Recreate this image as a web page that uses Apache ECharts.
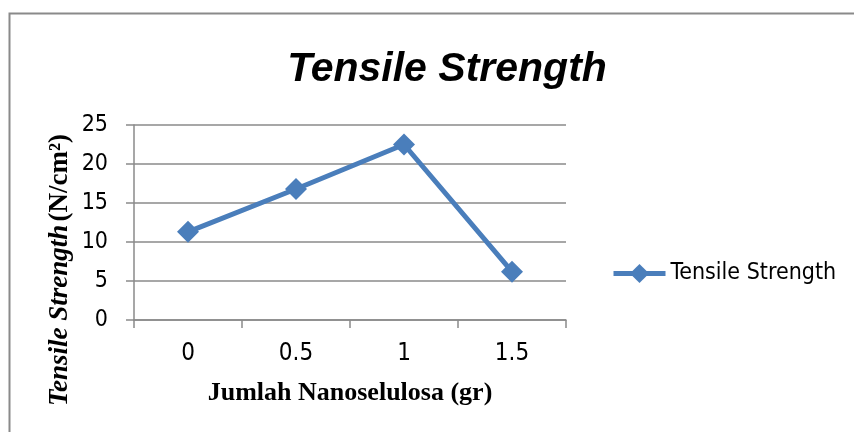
<!DOCTYPE html>
<html>
<head>
<meta charset="utf-8">
<script src="https://cdn.jsdelivr.net/npm/echarts@6/dist/echarts.min.js"></script>
<style>
html, body { margin: 0; padding: 0; background: #fff; }
#main { width: 854px; height: 432px; }
</style>
</head>
<body>
<div id="main"></div>
<script>
// 数据
var categories = ['0', '0.5', '1', '1.5'];
var strength = [11.3, 16.8, 22.5, 6.2];
var yTicks = { min: 0, max: 25, interval: 5 };

var myChart = echarts.init(document.getElementById('main'));
var tickFont = '"DejaVu Sans Condensed", "DejaVu Sans", sans-serif';
var serif = '"Liberation Serif", "Times New Roman", serif';
var gray = '#8a8a8a';

var option = {
    animation: false,
    title: {
        text: 'Tensile Strength',
        left: 442,
        top: 44,
        textAlign: 'center',
        textStyle: {
            fontFamily: '"Liberation Sans", Arial, sans-serif',
            fontStyle: 'italic',
            fontWeight: 'bold',
            fontSize: 41,
            color: '#000'
        }
    },
    legend: {
        left: 606,
        top: 257,
        itemWidth: 52,
        itemHeight: 24,
        itemGap: 8,
        data: ['Tensile Strength'],
        lineStyle: { width: 5 },
        textStyle: { fontFamily: tickFont, fontSize: 23, color: '#000' }
    },
    grid: { left: 134, right: 288, top: 125, bottom: 112 },
    xAxis: {
        type: 'category',
        data: categories,
        boundaryGap: true,
        name: 'Jumlah Nanoselulosa (gr)',
        nameLocation: 'middle',
        nameGap: 60,
        nameTextStyle: {
            fontFamily: serif,
            fontWeight: 'bold',
            fontSize: 26,
            color: '#000'
        },
        axisLine: { lineStyle: { color: gray, width: 1.5 } },
        axisTick: { show: true, inside: false, length: 8, lineStyle: { color: gray, width: 1.5 } },
        axisLabel: { fontFamily: tickFont, fontSize: 24, color: '#000', margin: 22 }
    },
    yAxis: {
        type: 'value',
        min: yTicks.min,
        max: yTicks.max,
        interval: yTicks.interval,
        axisLine: { show: true, lineStyle: { color: gray, width: 1.5 } },
        axisTick: { show: true, inside: false, length: 8, lineStyle: { color: gray, width: 1.5 } },
        splitLine: { show: true, lineStyle: { color: gray, width: 1.5 } },
        axisLabel: { fontFamily: tickFont, fontSize: 23, color: '#000', margin: 26, padding: [4, 0, 0, 0] }
    },
    graphic: [
        {
            type: 'rect',
            shape: { x: 9.5, y: 13.5, width: 900, height: 500 },
            style: { fill: 'none', stroke: '#8a8a8a', lineWidth: 2 },
            silent: true
        },
        {
            type: 'text',
            x: 60,
            y: 270,
            rotation: Math.PI / 2,
            style: {
                text: '{i|Tensile Strength} {n|(N/cm²)}',
                align: 'center',
                verticalAlign: 'middle',
                rich: {
                    i: { fontFamily: serif, fontStyle: 'italic', fontWeight: 'bold', fontSize: 27, fill: '#000' },
                    n: { fontFamily: serif, fontWeight: 'bold', fontSize: 27, fill: '#000' }
                }
            }
        }
    ],
    series: [{
        name: 'Tensile Strength',
        type: 'line',
        data: strength,
        symbol: 'diamond',
        symbolSize: 22,
        lineStyle: { color: '#4a7ebb', width: 5 },
        itemStyle: { color: '#4a7ebb' }
    }]
};
myChart.setOption(option);
</script>
</body>
</html>
